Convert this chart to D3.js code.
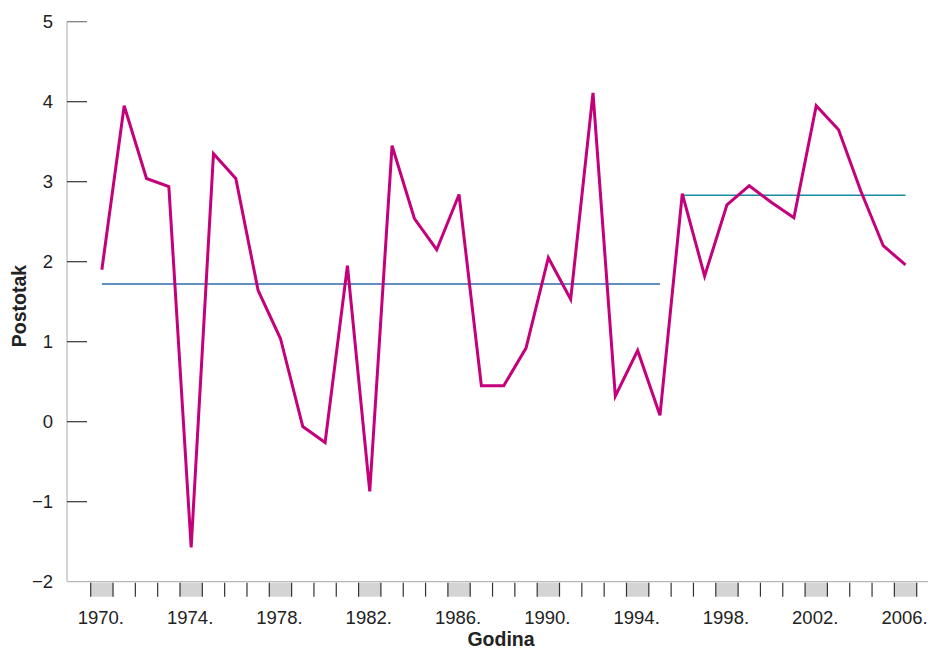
<!DOCTYPE html>
<html>
<head>
<meta charset="utf-8">
<script src="https://cdn.jsdelivr.net/npm/d3@7"></script>
<style>
    body { margin: 0; background: #fff; }
    text { font-family: "Liberation Sans", Arial, sans-serif; fill: #222; }
</style>
</head>
<body>
<svg width="928" height="652"></svg>
<script>
const years = d3.range(1970, 2007);
const values = [
    1.90, 3.95, 3.04, 2.94, -1.57, 3.35, 3.04, 1.64, 1.04, -0.06,
    -0.26, 1.95, -0.87, 3.45, 2.54, 2.15, 2.84, 0.45, 0.45, 0.92,
    2.05, 1.53, 4.11, 0.32, 0.89, 0.08, 2.85, 1.82, 2.71, 2.95,
    2.74, 2.55, 3.95, 3.65, 2.88, 2.20, 1.96
];
const periods = [
    { from: 1970, to: 1995, mean: 1.72, color: '#2f6aa8' },
    { from: 1996, to: 2006, mean: 2.83, color: '#1a8b9b' }
];
const yTicks = [-2, -1, 0, 1, 2, 3, 4, 5];
const labelYears = [1970, 1974, 1978, 1982, 1986, 1990, 1994, 1998, 2002, 2006];

const w = 928;
const h = 652;
const left = 67;
const svg = d3.select('svg');

const x = d3.scaleBand()
    .domain(years)
    .range([90.7, 916.7])
    .padding(0);
const y = d3.scaleLinear()
    .domain([-2, 5])
    .range([581.7, 21.7]);
const cx = d => x(d) + x.bandwidth() / 2;

// frame lines
svg.append('line')
    .attr('x1', left).attr('x2', left)
    .attr('y1', y(5)).attr('y2', y(-2))
    .attr('stroke', '#b8b8b8').attr('stroke-width', 1.2);
svg.append('line')
    .attr('x1', left).attr('x2', w)
    .attr('y1', y(-2)).attr('y2', y(-2))
    .attr('stroke', '#b8b8b8').attr('stroke-width', 1.2);

// y ticks
const yg = svg.append('g');
yg.selectAll('line')
    .data(yTicks.filter(d => d > -2))
    .enter()
    .append('line')
    .attr('x1', left).attr('x2', left + 20)
    .attr('y1', d => y(d)).attr('y2', d => y(d))
    .attr('stroke', d => d === 5 ? '#777' : '#333')
    .attr('stroke-width', 1.2);
yg.selectAll('text')
    .data(yTicks)
    .enter()
    .append('text')
    .attr('x', 53)
    .attr('y', d => y(d))
    .attr('dy', '0.35em')
    .attr('text-anchor', 'end')
    .style('font-size', '18.5px')
    .text(d => d < 0 ? '\u2212' + Math.abs(d) : d);

// x axis: shaded bands and tick marks
const xg = svg.append('g');
xg.selectAll('rect')
    .data(labelYears)
    .enter()
    .append('rect')
    .attr('x', d => x(d))
    .attr('y', y(-2) + 1)
    .attr('width', x.bandwidth())
    .attr('height', 14)
    .attr('fill', '#d4d4d4');
xg.selectAll('line')
    .data(years.concat([2007]))
    .enter()
    .append('line')
    .attr('x1', d => d === 2007 ? x(2006) + x.bandwidth() : x(d))
    .attr('x2', d => d === 2007 ? x(2006) + x.bandwidth() : x(d))
    .attr('y1', y(-2) + 1).attr('y2', y(-2) + 15)
    .attr('stroke', '#333')
    .attr('stroke-width', 1.2);
xg.selectAll('text')
    .data(labelYears)
    .enter()
    .append('text')
    .attr('x', d => cx(d) - 1)
    .attr('y', 624)
    .attr('text-anchor', 'middle')
    .style('font-size', '18.5px')
    .text(d => d + '.');

// period means
svg.selectAll('.mean')
    .data(periods)
    .enter()
    .append('line')
    .attr('class', 'mean')
    .attr('x1', d => cx(d.from)).attr('x2', d => cx(d.to))
    .attr('y1', d => y(d.mean)).attr('y2', d => y(d.mean))
    .attr('stroke', d => d.color)
    .attr('stroke-width', 1.5);

// main series
const line = d3.line()
    .x((d, i) => cx(years[i]))
    .y(d => y(d));
svg.append('path')
    .datum(values)
    .attr('d', line)
    .attr('fill', 'none')
    .attr('stroke', '#c4007a')
    .attr('stroke-width', 3)
    .attr('stroke-linejoin', 'miter');

// axis titles
svg.append('text')
    .text('Godina')
    .attr('x', 501)
    .attr('y', 646)
    .attr('text-anchor', 'middle')
    .style('font-size', '19.5px')
    .style('font-weight', 'bold');
svg.append('text')
    .text('Postotak')
    .attr('transform', 'translate(26,306) rotate(-90)')
    .attr('text-anchor', 'middle')
    .style('font-size', '19.5px')
    .style('font-weight', 'bold');
</script>
</body>
</html>
